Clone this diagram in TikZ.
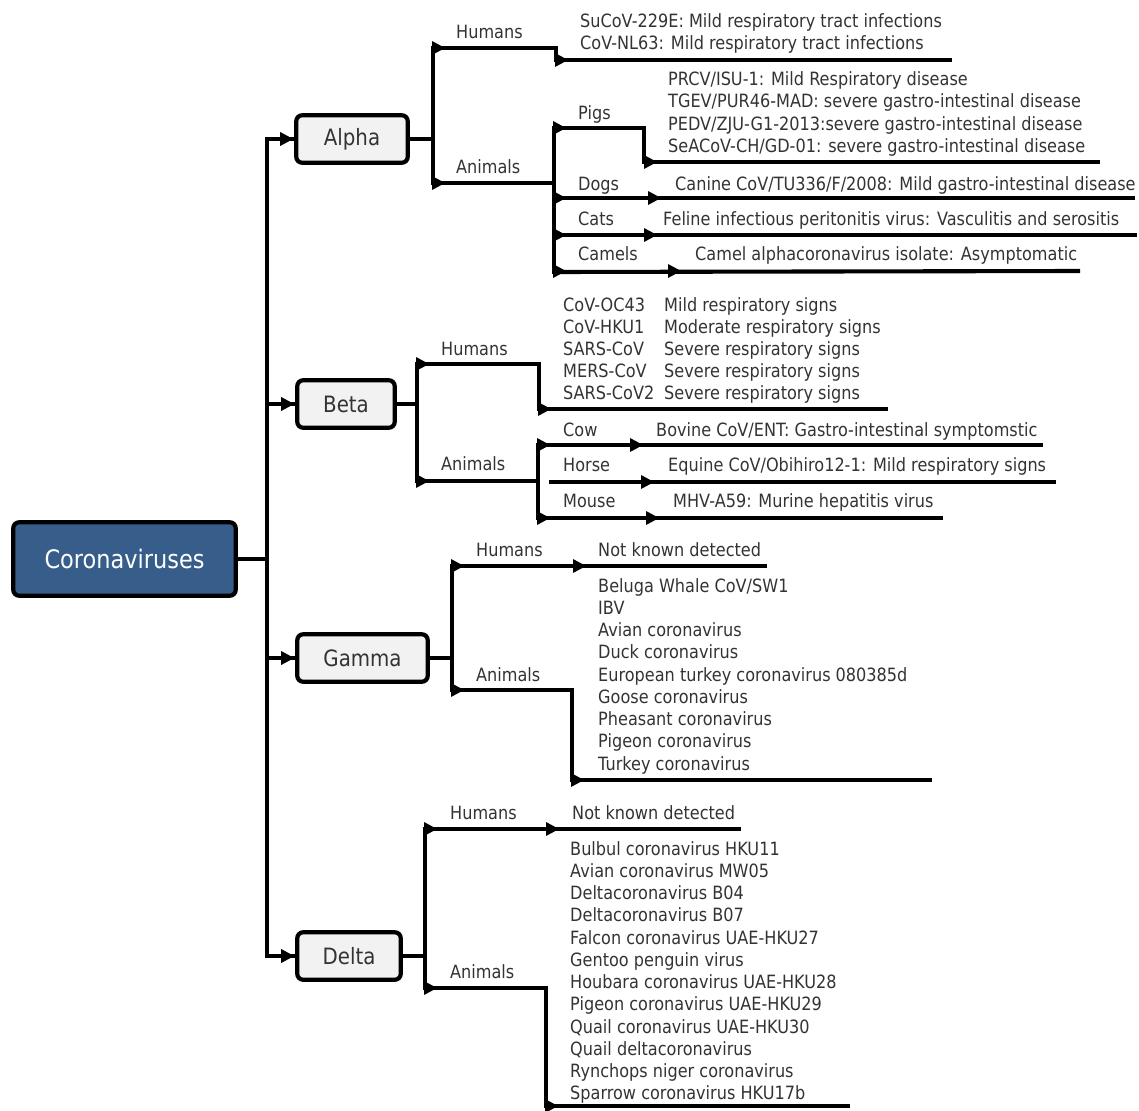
\documentclass[tikz,border=0pt]{standalone}
\usepackage{fontspec}
\setmainfont{DejaVu Sans}[FakeStretch=0.88]
\usetikzlibrary{arrows.meta}
\definecolor{txt}{HTML}{333333}
\definecolor{cvblue}{HTML}{375D8A}
\definecolor{boxgray}{HTML}{F2F2F2}
\begin{document}
\begin{tikzpicture}[x=1pt,y=-1pt,
  ln/.style={line width=4.1pt},
  box/.style={draw, line width=4.2pt, rounded corners=6pt, fill=boxgray, text=txt,
    font=\fontsize{22.5}{27}\selectfont, inner sep=0pt, minimum height=47.5pt},
  cbox/.style={draw, line width=4.2pt, rounded corners=6pt, fill=cvblue, text=white,
    font=\fontsize{25.5}{30}\selectfont, inner sep=0pt, minimum height=73.5pt, minimum width=222.5pt},
  lbl/.style={anchor=base west, inner sep=0pt, text=txt, font=\fontsize{18.3}{22}\selectfont},
  tri/.pic={\fill (-13,-7) -- (0,0) -- (-13,7) -- cycle;}
]
\useasboundingbox (0,0) rectangle (1139,1110);

% ---------- boxes ----------
\node[cbox] (cv) at (124.5,559) {Coronaviruses};
\node[box, minimum width=111.5pt] (alpha) at (352,139) {Alpha};
\node[box, minimum width=97.5pt]  (beta)  at (346,404) {Beta};
\node[box, minimum width=130.5pt] (gamma) at (362.5,658) {Gamma};
\node[box, minimum width=103.5pt] (delta) at (349,956) {Delta};

% ---------- trunk ----------
\coordinate (tC) at (267,559);
\coordinate (tA) at (267,139);
\coordinate (tB) at (267,404);
\coordinate (tG) at (267,658);
\coordinate (tD) at (267,956);
\draw[ln] (cv.east) -- (tC);
\draw[ln] ([yshift=2pt]tA) -- ([yshift=-2pt]tD);
\foreach \s/\b in {tA/alpha,tB/beta,tG/gamma,tD/delta}{
  \draw[ln] (\s) -- (\b.west);
  \pic at ([xshift=-1pt]\b.west) {tri};
}

% ---------- Alpha ----------
\coordinate (aJ) at (433,139);
\coordinate (aH) at (433,48);
\coordinate (aA) at (433,183);
\draw[ln] (alpha.east) -- (aJ);
\draw[ln] ([yshift=2pt]aH) -- ([yshift=-2pt]aA);
\node[lbl] (aHl) at (456,39) {Humans};
\node[lbl] (aAl) at (456,174) {Animals};
% humans
\coordinate (aHb) at (556,48);
\coordinate (aHd) at (556,60);
\coordinate (aHz) at (952,60);
\draw[ln] (aH) -- (aHb) -- (aHd) -- (aHz);
\pic at (445,48) {tri};
\pic at (568,60) {tri};
\node[lbl] (aH1) at (580,28) {SuCoV-229E: Mild respiratory tract infections};
\node[lbl] (aH2) at (580,50) {CoV-NL63: Mild respiratory tract infections};
% animals
\coordinate (aV) at (554,183);
\coordinate (aVt) at (554,128);
\coordinate (aVb) at (554,272);
\draw[ln] (aA) -- (aV);
\draw[ln] ([yshift=2pt]aVt) -- ([yshift=-2pt]aVb);
\pic at (445,183) {tri};
% pigs
\coordinate (pB) at (644,128);
\coordinate (pD) at (644,162);
\coordinate (pZ) at (1100,162);
\draw[ln] (aVt) -- (pB) -- (pD) -- (pZ);
\pic at (566,128) {tri};
\pic at (657,162) {tri};
\node[lbl] (pigs) at (578,120) {Pigs};
\node[lbl] (p1) at (668,86)  {PRCV/ISU-1: Mild Respiratory disease};
\node[lbl] (p2) at (668,108) {TGEV/PUR46-MAD: severe gastro-intestinal disease};
\node[lbl] (p3) at (668,131) {PEDV/ZJU-G1-2013:severe gastro-intestinal disease};
\node[lbl] (p4) at (668,153) {SeACoV-CH/GD-01: severe gastro-intestinal disease};
% dogs
\coordinate (dS) at (554,198);
\coordinate (dZ) at (1135,198);
\draw[ln] (dS) -- (dZ);
\pic at (566,198) {tri};
\pic at (661,198) {tri};
\node[lbl] (dogs) at (578,190) {Dogs};
\node[lbl] (d1) at (675,190) {Canine CoV/TU336/F/2008: Mild gastro-intestinal disease};
% cats
\coordinate (cS) at (554,235);
\coordinate (cZ) at (1137,235);
\draw[ln] (cS) -- (cZ);
\pic at (566,235) {tri};
\pic at (657,235) {tri};
\node[lbl] (cats) at (578,225) {Cats};
\node[lbl] (c1) at (663,225) {Feline infectious peritonitis virus: Vasculitis and serositis};
% camels
\coordinate (mZ) at (1080,271);
\draw[ln] (aVb) -- (mZ);
\pic at (566,271) {tri};
\pic at (681,271) {tri};
\node[lbl] (camels) at (578,260) {Camels};
\node[lbl] (m1) at (695,260) {Camel alphacoronavirus isolate: Asymptomatic};

% ---------- Beta ----------
\coordinate (bJ) at (417,404);
\coordinate (bH) at (417,364);
\coordinate (bA) at (417,481);
\draw[ln] (beta.east) -- (bJ);
\draw[ln] ([yshift=2pt]bH) -- ([yshift=-2pt]bA);
\node[lbl] (bHl) at (441,355) {Humans};
\node[lbl] (bAl) at (441,470) {Animals};
\coordinate (bHb) at (539,364);
\coordinate (bHd) at (539,409);
\coordinate (bHz) at (888,409);
\draw[ln] (bH) -- (bHb) -- (bHd) -- (bHz);
\pic at (429,364) {tri};
\pic at (551,409) {tri};
\foreach \a/\b [count=\i] in {CoV-OC43/Mild respiratory signs,
  CoV-HKU1/Moderate respiratory signs, SARS-CoV/Severe respiratory signs,
  MERS-CoV/Severe respiratory signs, SARS-CoV2/Severe respiratory signs}{
  \node[lbl] (bh\i) at (563,{311+22.2*(\i-1)}) {\a};
  \node[lbl] (bs\i) at (664,{311+22.2*(\i-1)}) {\b};
}
% animals
\coordinate (bV) at (538,481);
\coordinate (bVt) at (538,445);
\coordinate (bVb) at (538,518);
\draw[ln] (bA) -- (bV);
\draw[ln] ([yshift=2pt]bVt) -- ([yshift=-2pt]bVb);
\pic at (429,481) {tri};
% cow
\coordinate (cowZ) at (1043,445);
\draw[ln] (bVt) -- (cowZ);
\pic at (550,445) {tri};
\pic at (643,445) {tri};
\node[lbl] (cow) at (563,436) {Cow};
\node[lbl] (cow1) at (656,436) {Bovine CoV/ENT: Gastro-intestinal symptomstic};
% horse
\coordinate (hoS) at (549,482);
\coordinate (hoZ) at (1056,482);
\draw[ln] (hoS) -- (hoZ);
\pic at (654,482) {tri};
\node[lbl] (horse) at (563,471) {Horse};
\node[lbl] (ho1) at (668,471) {Equine CoV/Obihiro12-1: Mild respiratory signs};
% mouse
\coordinate (moZ) at (943,518);
\draw[ln] (bVb) -- (moZ);
\pic at (550,518) {tri};
\pic at (659,518) {tri};
\node[lbl] (mouse) at (563,507) {Mouse};
\node[lbl] (mo1) at (673,507) {MHV-A59: Murine hepatitis virus};

% ---------- Gamma ----------
\coordinate (gJ) at (452,658);
\coordinate (gH) at (452,566);
\coordinate (gA) at (452,690);
\draw[ln] (gamma.east) -- (gJ);
\draw[ln] ([yshift=2pt]gH) -- ([yshift=-2pt]gA);
\node[lbl] (gHl) at (476,556) {Humans};
\node[lbl] (gAl) at (476,681) {Animals};
\coordinate (gHz) at (767,566);
\draw[ln] (gH) -- (gHz);
\pic at (464,566) {tri};
\pic at (586,566) {tri};
\node[lbl] (gh1) at (598,556) {Not known detected};
\coordinate (gAb) at (572,690);
\coordinate (gAd) at (572,780);
\coordinate (gAz) at (932,780);
\draw[ln] (gA) -- (gAb) -- (gAd) -- (gAz);
\pic at (464,690) {tri};
\pic at (584,780) {tri};
\foreach \t [count=\i] in {Beluga Whale CoV/SW1, IBV, Avian coronavirus,
  Duck coronavirus, European turkey coronavirus 080385d, Goose coronavirus,
  Pheasant coronavirus, Pigeon coronavirus, Turkey coronavirus}{
  \node[lbl] (ga\i) at (598,{592+22.25*(\i-1)}) {\t};
}

% ---------- Delta ----------
\coordinate (dJ) at (425,956);
\coordinate (dH) at (425,829);
\coordinate (dA) at (425,988);
\draw[ln] (delta.east) -- (dJ);
\draw[ln] ([yshift=2pt]dH) -- ([yshift=-2pt]dA);
\node[lbl] (dHl) at (450,819) {Humans};
\node[lbl] (dAl) at (450,978) {Animals};
\coordinate (dHz) at (741,829);
\draw[ln] (dH) -- (dHz);
\pic at (437,829) {tri};
\pic at (559,829) {tri};
\node[lbl] (dh1) at (572,819) {Not known detected};
\coordinate (dAb) at (546,988);
\coordinate (dAd) at (546,1106);
\coordinate (dAz) at (850,1106);
\draw[ln] (dA) -- (dAb) -- (dAd) -- (dAz);
\pic at (437,988) {tri};
\pic at (558,1106) {tri};
\foreach \t [count=\i] in {Bulbul coronavirus HKU11, Avian coronavirus MW05,
  Deltacoronavirus B04, Deltacoronavirus B07, Falcon coronavirus UAE-HKU27,
  Gentoo penguin virus, Houbara coronavirus UAE-HKU28, Pigeon coronavirus UAE-HKU29,
  Quail coronavirus UAE-HKU30, Quail deltacoronavirus, Rynchops niger coronavirus,
  Sparrow coronavirus HKU17b}{
  \node[lbl] (da\i) at (570,{855+22.27*(\i-1)}) {\t};
}
\end{tikzpicture}
\end{document}
